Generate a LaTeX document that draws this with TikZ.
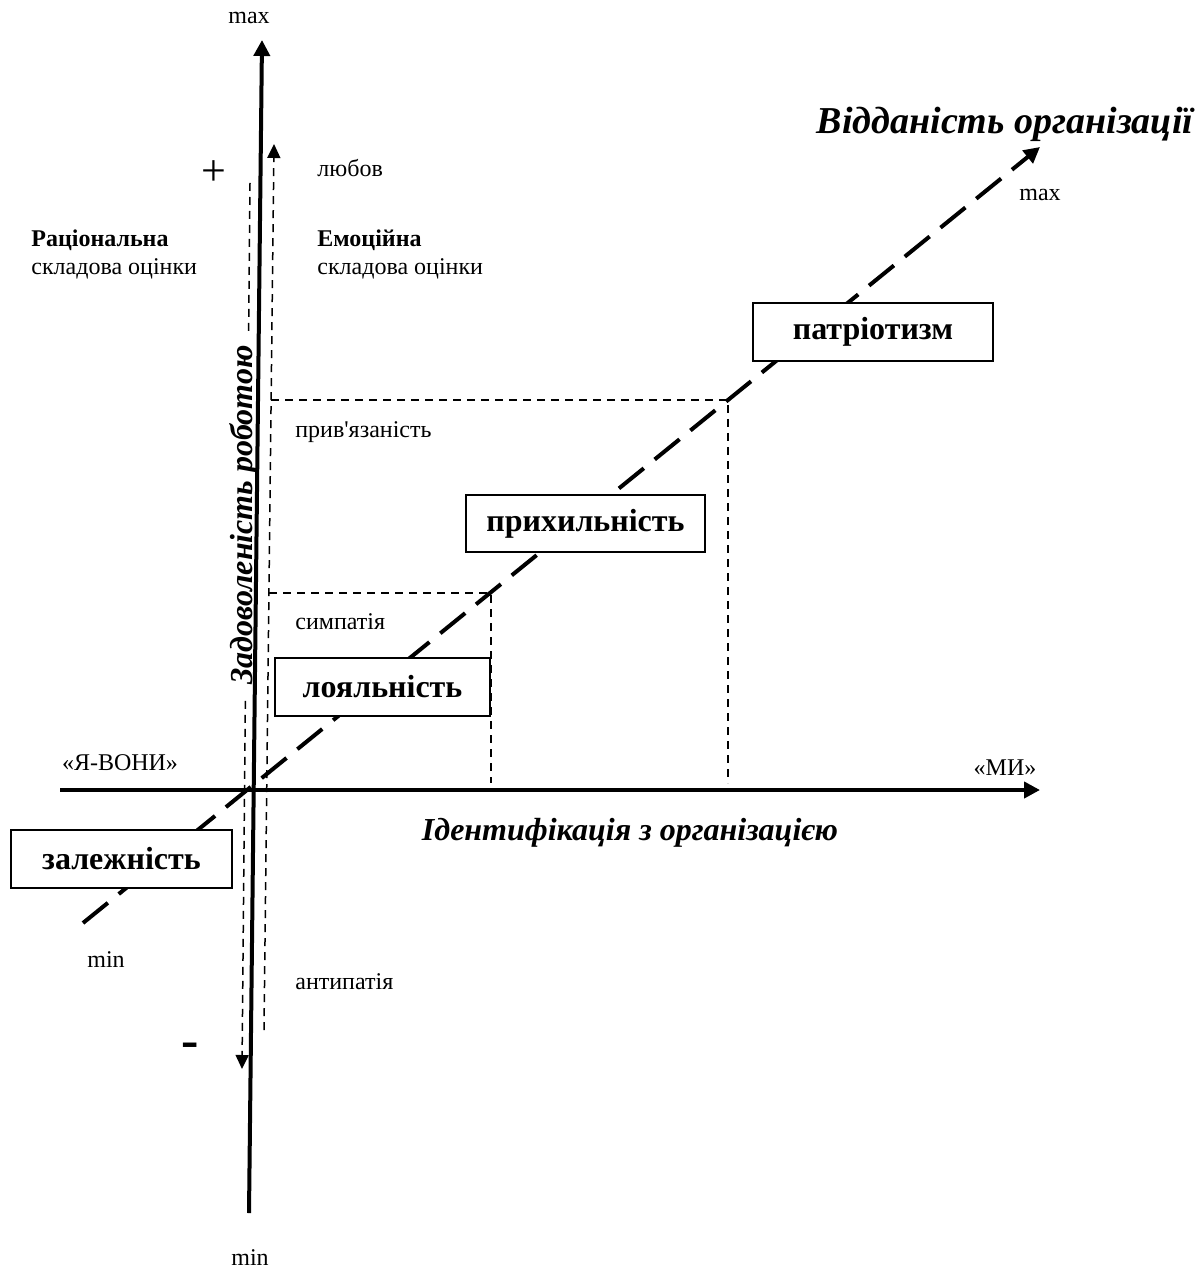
\documentclass[tikz,border=0pt]{standalone}
\usepackage{fontspec}
\setmainfont{Liberation Serif}[Ligatures=TeXOff]
\usepackage{tikz}
\usetikzlibrary{arrows.meta}

\begin{document}
\begin{tikzpicture}[x = 0.5pt, y = 0.5pt,
    axisLine/.style = {line width = 2pt},
    bigDash/.style = {line width = 2pt, dash pattern = on 16pt off 7pt},
    thinDash/.style = {line width = 0.75pt, dash pattern = on 4pt off 3pt},
    boxLine/.style = {line width = 1pt, fill = FFFFFF},
    boxText/.style = {align = center, inner sep = 0, font = \bfseries\fontsize{16}{18}\selectfont},
    lbl/.style = {inner sep = 0, font = \fontsize{12}{14}\selectfont},
    ttl/.style = {inner sep = 0, font = \bfseries\itshape\fontsize{16}{18}\selectfont}]
    \definecolor{FFFFFF}{RGB}{255,255,255}
    \useasboundingbox (0,0) rectangle (1194,-1272);
    \coordinate (ID_P-1) at (249,-1213);
    \coordinate (ID_P-2) at (262,-40);
    \coordinate (ID_P-3) at (60,-790);
    \coordinate (ID_P-4) at (1040,-790);
    \coordinate (ID_P-5) at (83,-923);
    \coordinate (ID_P-6) at (1040,-147);
    \coordinate (ID_P-7) at (250,-183);
    \coordinate (ID_P-8) at (242,-1069);
    \coordinate (ID_P-9) at (264,-1030);
    \coordinate (ID_P-10) at (274,-144);
    \coordinate (ID_P-11) at (271,-400);
    \coordinate (ID_P-12) at (728,-400);
    \coordinate (ID_P-13) at (728,-783);
    \coordinate (ID_P-14) at (269,-593);
    \coordinate (ID_P-15) at (491,-593);
    \coordinate (ID_P-16) at (491,-783);
    \draw [thinDash,-{Triangle[length=7pt,width=6.5pt]}] (ID_P-7) -- (ID_P-8);
    \draw [thinDash,-{Triangle[length=7pt,width=6.5pt]}] (ID_P-9) -- (ID_P-10);
    \draw [thinDash] (ID_P-11) -- (ID_P-12) -- (ID_P-13);
    \draw [thinDash] (ID_P-14) -- (ID_P-15) -- (ID_P-16);
    \draw [bigDash,-{Triangle[length=8pt,width=8pt]}] (ID_P-5) -- (ID_P-6);
    \node(ID_T-1)[ttl, rotate = 90, fill = FFFFFF, inner xsep = 6pt, inner ysep = 1pt] at (244,-515) {Задоволеність роботою};
    \draw [axisLine,-{Triangle[length=8pt,width=8pt]}] (ID_P-1) -- (ID_P-2);
    \draw [axisLine,-{Triangle[length=8pt,width=8pt]}] (ID_P-3) -- (ID_P-4);
    \draw [boxLine] (753,-303) rectangle node(ID_B-1)[boxText] {патріотизм} (993,-361);
    \draw [boxLine] (466,-495) rectangle node(ID_B-2)[boxText] {прихильність} (705,-552);
    \draw [boxLine] (275,-658) rectangle node(ID_B-3)[boxText] {лояльність} (490,-716);
    \draw [boxLine] (11,-830) rectangle node(ID_B-4)[boxText] {залежність} (232,-888);
    \node(ID_T-2)[ttl, font = \bfseries\itshape\fontsize{19}{21}\selectfont] at (1005,-124) {Відданість організації};
    \node(ID_T-3)[ttl] at (630,-833) {Ідентифікація з організацією};
    \node(ID_T-4)[lbl] at (249,-18) {max};
    \node(ID_T-5)[lbl] at (250,-1258) {min};
    \node(ID_T-6)[lbl] at (1040,-195) {max};
    \node(ID_T-7)[lbl] at (106,-960) {min};
    \node(ID_T-8)[lbl] at (120,-763) {«Я-ВОНИ»};
    \node(ID_T-9)[lbl] at (1005,-768) {«МИ»};
    \node(ID_T-10)[lbl, anchor = west] at (317,-168) {любов};
    \node(ID_T-11)[lbl, anchor = west, align = left] at (317,-254) {\textbf{Емоційна}\\складова оцінки};
    \node(ID_T-12)[lbl, anchor = west, align = left] at (31,-254) {\textbf{Раціональна}\\складова оцінки};
    \node(ID_T-13)[lbl, anchor = west] at (295,-432) {прив'язаність};
    \node(ID_T-14)[lbl, anchor = west] at (295,-622) {симпатія};
    \node(ID_T-15)[lbl, anchor = west] at (295,-982) {антипатія};
    \node(ID_T-16)[inner sep = 0, font = \fontsize{22}{24}\selectfont] at (214,-173) {+};
    \node(ID_T-17)[inner sep = 0, font = \bfseries\fontsize{26}{28}\selectfont] at (190,-1050) {-};
\end{tikzpicture}
\end{document}
